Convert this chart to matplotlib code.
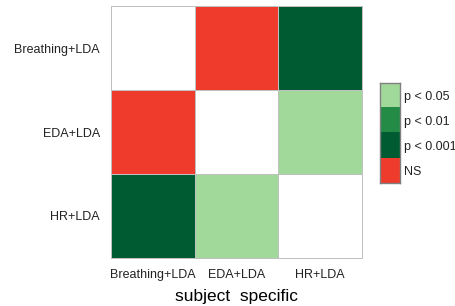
import numpy as np
import matplotlib
matplotlib.use("Agg")
from matplotlib import pyplot as plt
from matplotlib.colors import ListedColormap, BoundaryNorm

plt.rcParams['font.family'] = ['Liberation Sans', 'DejaVu Sans']

methods = ["Breathing+LDA", "EDA+LDA", "HR+LDA"]
# 0 = diagonal (blank), 1 = p<0.05, 2 = p<0.01, 3 = p<0.001, 4 = NS
codes = [[0, 4, 3],
         [4, 0, 1],
         [3, 1, 0]]
legend_labels = ["p < 0.05", "p < 0.01", "p < 0.001", "NS"]
palette = ["#ffffff", "#a1d99b", "#238b45", "#005a32", "#ef3b2c"]

cmap = ListedColormap(palette)
norm = BoundaryNorm(np.arange(-0.5, 5.5, 1), cmap.N)

fig = plt.figure(figsize=(4.56, 3.06), dpi=100)
ax = fig.add_axes([0.2434, 0.157, 0.5505, 0.823])
mesh = ax.pcolormesh(np.array(codes), cmap=cmap, norm=norm, edgecolor="#c0c0c0", linewidth=0.5)
mesh.set_clip_on(False)
ax.set_xlim(0, 3)
ax.set_ylim(3, 0)
ax.set_xticks(np.arange(3) + 0.5)
ax.set_xticklabels(methods, fontsize=9, color="#222222")
ax.set_yticks(np.arange(3) + 0.5)
ax.set_yticklabels(methods, fontsize=9, color="#222222")
ax.tick_params(length=0, pad=8)
for s in ax.spines.values():
    s.set_visible(False)
ax.set_xlabel("subject  specific", fontsize=12.5, labelpad=6)

# legend key
lax = fig.add_axes([380 / 456, 1 - 183 / 306, 20 / 456, 100 / 306])
lax.imshow(np.array([[1], [2], [3], [4]]), cmap=cmap, norm=norm, aspect="auto")
lax.set_xticks([])
lax.set_yticks(range(4))
lax.set_yticklabels(legend_labels, fontsize=9, color="#222222")
lax.yaxis.tick_right()
lax.tick_params(length=0, pad=3)
for s in lax.spines.values():
    s.set_color("#808080")
    s.set_linewidth(1.0)

fig.savefig("out.png", dpi=100)
